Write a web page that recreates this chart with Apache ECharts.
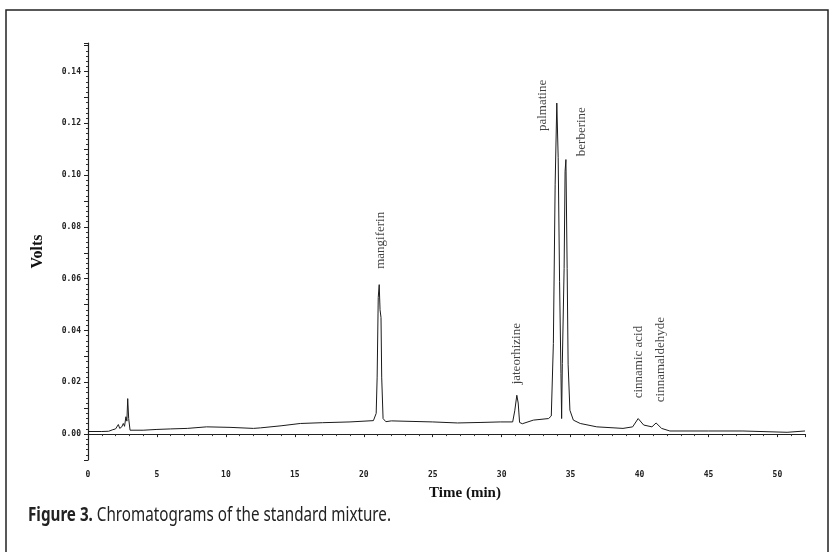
<!DOCTYPE html>
<html>
<head>
<meta charset="utf-8">
<script src="https://cdn.jsdelivr.net/npm/echarts@6/dist/echarts.min.js"></script>
<style>
html, body { margin: 0; padding: 0; background: #fff; }
#main { width: 832px; height: 552px; }
</style>
</head>
<body>
<div id="main"></div>
<script>
// retention time (min) and detector signal (V)
var times = [0, 1.0, 1.5, 1.8, 2.0, 2.2, 2.3, 2.45, 2.56, 2.65, 2.75, 2.82, 2.88, 2.95, 3.05, 3.17,
	4.0, 5.0, 6.0, 7.2, 8.6, 10.3, 12.0, 12.5, 14.0, 15.4, 17.0, 19.0,
	20.7, 20.9, 20.97, 21.05, 21.12, 21.18, 21.25, 21.3, 21.4, 21.6,
	22.0, 23.5, 25.0, 26.8, 28.5, 29.9, 30.8, 30.95, 31.1, 31.2, 31.3, 31.5, 32.3, 33.4,
	33.6, 33.75, 33.88, 34.0, 34.1, 34.2, 34.3, 34.35, 34.4, 34.53, 34.6, 34.66, 34.75, 34.82, 34.95,
	35.2, 35.7, 36.9, 38.8, 39.5, 39.9, 40.3, 40.9, 41.2, 41.6, 42.2, 45.0, 47.5, 47.6, 50.7, 50.8, 52.0];
var volts = [0.0010, 0.0010, 0.0011, 0.0017, 0.0020, 0.0037, 0.0022, 0.0028, 0.0041, 0.0030, 0.0067, 0.0050, 0.0137, 0.0060, 0.0015, 0.0009,
	0.0015, 0.0018, 0.0020, 0.0022, 0.0028, 0.0026, 0.0022, 0.0024, 0.0032, 0.0041, 0.0044, 0.0047,
	0.0052, 0.0080, 0.0220, 0.0528, 0.0577, 0.0480, 0.0450, 0.0220, 0.0060, 0.0048,
	0.0051, 0.0049, 0.0047, 0.0043, 0.0045, 0.0047, 0.0047, 0.0090, 0.0150, 0.0120, 0.0045, 0.0040, 0.0054, 0.0060,
	0.0070, 0.0350, 0.0965, 0.1278, 0.1067, 0.0590, 0.0235, 0.0060, 0.0273, 0.0640, 0.1015, 0.1060, 0.0640, 0.0270, 0.0092,
	0.0054, 0.0041, 0.0028, 0.0022, 0.0028, 0.0060, 0.0035, 0.0028, 0.0043, 0.0022, 0.0012, 0.0012, 0.0012, 0.0007, 0.0007, 0.0012, 0.0012];

// peak names and where their labels sit (time, volts at the foot of the text)
var peakNames = ['mangiferin', 'jateorhizine', 'palmatine', 'berberine', 'cinnamic acid', 'cinnamaldehyde'];
var labelTimes = [21.2, 31.1, 33.0, 35.8, 39.9, 41.55];
var labelVolts = [0.0638, 0.0192, 0.117, 0.1073, 0.0138, 0.0123];

var xTicks = [0, 5, 10, 15, 20, 25, 30, 35, 40, 45, 50];
var yTicks = ['0.00', '0.02', '0.04', '0.06', '0.08', '0.10', '0.12', '0.14'];

var trace = [];
for (var i = 0; i < times.length; i++) {
	trace.push([times[i], volts[i]]);
}
var labelPts = [];
for (var j = 0; j < peakNames.length; j++) {
	labelPts.push({ value: [labelTimes[j], labelVolts[j]], name: peakNames[j] });
}

var tickFont = { fontFamily: 'DejaVu Sans Mono', fontSize: 8, fontWeight: 'bold', color: '#222' };

var myChart = echarts.init(document.getElementById('main'));
var option = {
	animation: false,
	grid: { left: 88, right: 27, top: 43, bottom: 92 },
	xAxis: {
		type: 'value',
		min: 0, max: 52, interval: 5,
		name: 'Time (min)',
		nameLocation: 'middle',
		nameGap: 26,
		nameTextStyle: { fontFamily: 'Liberation Serif', fontSize: 15, fontWeight: 'bold', color: '#111', padding: [0, 0, 0, 37] },
		axisLine: { lineStyle: { color: '#222', width: 1.2 } },
		axisTick: { inside: false, length: 3, lineStyle: { color: '#222' } },
		minorTick: { show: true, splitNumber: 5, length: 2, lineStyle: { color: '#333' } },
		splitLine: { show: false },
		axisLabel: Object.assign({ margin: 11, formatter: function (v) {
			return xTicks.indexOf(v) >= 0 ? String(v) : '';
		} }, tickFont)
	},
	yAxis: {
		type: 'value',
		min: -0.01, max: 0.151, interval: 0.01,
		name: 'Volts',
		nameLocation: 'middle',
		nameGap: 42,
		nameTextStyle: { fontFamily: 'Liberation Serif', fontSize: 16, fontWeight: 'bold', color: '#111' },
		axisLine: { show: true, lineStyle: { color: '#222', width: 1.2 } },
		axisTick: { inside: false, length: 4, lineStyle: { color: '#222' } },
		minorTick: { show: true, splitNumber: 5, length: 2, lineStyle: { color: '#333' } },
		splitLine: { show: false },
		axisLabel: Object.assign({ margin: 7, formatter: function (v) {
			var s = v.toFixed(2);
			return yTicks.indexOf(s) >= 0 ? s : '';
		} }, tickFont)
	},
	series: [{
		type: 'line',
		data: trace,
		showSymbol: false,
		lineStyle: { color: '#1a1a1a', width: 1 }
	}, {
		type: 'scatter',
		data: labelPts,
		symbolSize: 0,
		label: {
			show: true,
			position: [0, 0],
			rotate: 90,
			align: 'left',
			verticalAlign: 'middle',
			formatter: '{b}',
			fontFamily: 'Liberation Serif',
			fontSize: 13,
			color: '#111'
		}
	}],
	graphic: [{
		type: 'rect',
		shape: { x: 6, y: 10, width: 822, height: 560 },
		style: { fill: 'none', stroke: '#222', lineWidth: 1.5 }
	}, {
		type: 'text',
		x: 28, y: 516,
		scaleX: 0.8,
		style: {
			text: '{b|Figure 3.} Chromatograms of the standard mixture.',
			fontFamily: 'Noto Sans',
			fontSize: 19,
			verticalAlign: 'middle',
			fill: '#222',
			rich: { b: { fontFamily: 'Noto Sans', fontSize: 19, fontWeight: 'bold', fill: '#222' } }
		}
	}]
};
myChart.setOption(option);
</script>
</body>
</html>
